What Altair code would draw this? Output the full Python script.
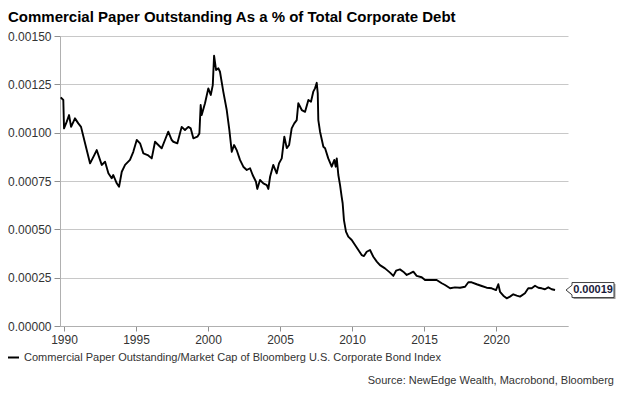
import altair as alt
import pandas as pd

title_text = "Commercial Paper Outstanding As a % of Total Corporate Debt"
series_name = "Commercial Paper Outstanding/Market Cap of Bloomberg U.S. Corporate Bond Index"
source_text = "Source: NewEdge Wealth, Macrobond, Bloomberg"

x_ticks = [1990, 1995, 2000, 2005, 2010, 2015, 2020]
y_ticks = [0.0, 0.00025, 0.0005, 0.00075, 0.001, 0.00125, 0.0015]

years = [1989.77, 1989.95, 1990.00, 1990.19, 1990.35, 1990.49, 1990.76, 1990.99, 1991.18, 1991.46,
         1991.81, 1992.10, 1992.27, 1992.50, 1992.62, 1992.85, 1993.08, 1993.31, 1993.42, 1993.66,
         1993.82, 1994.01, 1994.24, 1994.58, 1994.81, 1995.05, 1995.28, 1995.51, 1995.81, 1996.09,
         1996.32, 1996.55, 1996.78, 1997.01, 1997.24, 1997.48, 1997.59, 1997.87, 1998.17, 1998.40,
         1998.63, 1998.80, 1998.98, 1999.26, 1999.40, 1999.49, 1999.56, 1999.79, 2000.02, 2000.19,
         2000.33, 2000.42, 2000.56, 2000.72, 2000.83, 2001.06, 2001.30, 2001.48, 2001.65, 2001.81,
         2001.99, 2002.22, 2002.45, 2002.69, 2002.92, 2003.10, 2003.33, 2003.42, 2003.61, 2003.84,
         2004.08, 2004.19, 2004.31, 2004.53, 2004.77, 2004.93, 2005.12, 2005.30, 2005.47, 2005.63,
         2005.81, 2005.99, 2006.16, 2006.27, 2006.51, 2006.74, 2006.97, 2007.15, 2007.31, 2007.43,
         2007.55, 2007.62, 2007.66, 2007.78, 2008.01, 2008.13, 2008.35, 2008.59, 2008.77, 2008.87,
         2008.94, 2009.05, 2009.17, 2009.28, 2009.35, 2009.44, 2009.58, 2009.74, 2009.98, 2010.21,
         2010.44, 2010.67, 2010.83, 2011.02, 2011.25, 2011.48, 2011.72, 2011.94, 2012.29, 2012.64,
         2012.87, 2013.06, 2013.33, 2013.56, 2013.80, 2014.03, 2014.26, 2014.49, 2014.84, 2015.07,
         2015.42, 2015.88, 2016.23, 2016.46, 2016.81, 2017.15, 2017.50, 2017.85, 2018.08, 2018.31,
         2018.66, 2019.01, 2019.35, 2019.70, 2020.00, 2020.16, 2020.28, 2020.51, 2020.74, 2020.97,
         2021.20, 2021.44, 2021.67, 2022.01, 2022.24, 2022.48, 2022.71, 2022.94, 2023.17, 2023.40,
         2023.63, 2023.87, 2024.10]

values = [0.001183, 0.001169, 0.001022, 0.001057, 0.001091, 0.001030, 0.001074, 0.001048, 0.001030, 0.000945,
          0.000841, 0.000884, 0.000910, 0.000859, 0.000833, 0.000850, 0.000790, 0.000764, 0.000781, 0.000738,
          0.000720, 0.000798, 0.000833, 0.000859, 0.000901, 0.000962, 0.000945, 0.000893, 0.000884, 0.000867,
          0.000953, 0.000936, 0.000919, 0.000962, 0.001005, 0.000962, 0.000953, 0.000945, 0.001030, 0.001014,
          0.001030, 0.001022, 0.000971, 0.000979, 0.000996, 0.001143, 0.001091, 0.001152, 0.001229, 0.001195,
          0.001246, 0.001398, 0.001324, 0.001333, 0.001315, 0.001212, 0.001117, 0.001014, 0.000901, 0.000936,
          0.000910, 0.000859, 0.000824, 0.000807, 0.000816, 0.000781, 0.000746, 0.000709, 0.000755, 0.000738,
          0.000729, 0.000709, 0.000772, 0.000833, 0.000790, 0.000841, 0.000867, 0.000979, 0.000920, 0.000936,
          0.001022, 0.001048, 0.001065, 0.001152, 0.001117, 0.001108, 0.001169, 0.001160, 0.001212, 0.001229,
          0.001258, 0.001203, 0.001065, 0.001005, 0.000927, 0.000919, 0.000867, 0.000824, 0.000859, 0.000824,
          0.000867, 0.000781, 0.000729, 0.000669, 0.000635, 0.000548, 0.000488, 0.000462, 0.000445, 0.000419,
          0.000393, 0.000367, 0.000362, 0.000384, 0.000393, 0.000358, 0.000333, 0.000315, 0.000298, 0.000276,
          0.000259, 0.000286, 0.000293, 0.000281, 0.000264, 0.000272, 0.000281, 0.000259, 0.000252, 0.000238,
          0.000238, 0.000238, 0.000221, 0.000212, 0.000195, 0.000200, 0.000198, 0.000203, 0.000226, 0.000226,
          0.000216, 0.000207, 0.000198, 0.000195, 0.000186, 0.000216, 0.000177, 0.000157, 0.000143, 0.000152,
          0.000164, 0.000157, 0.000152, 0.000169, 0.000195, 0.000195, 0.000208, 0.000198, 0.000195, 0.000190,
          0.000200, 0.000190, 0.000186]

df = pd.DataFrame({"year": years, "value": values, "series": series_name})
last = df.tail(1)

FONT = "Liberation Sans"
W, H = 508, 290

x_enc = alt.X("year:Q",
              scale=alt.Scale(domain=[1989.72, 2025.0], nice=False, zero=False),
              axis=alt.Axis(values=x_ticks, format="d", title=None, grid=False,
                            labelFont=FONT, labelFontSize=12, labelColor="#333333",
                            domainColor="#b0b0b0", tickColor="#909090", tickSize=5,
                            labelPadding=3))
y_enc = alt.Y("value:Q",
              scale=alt.Scale(domain=[0, 0.0015], nice=False),
              axis=alt.Axis(values=y_ticks, format=".5f", title=None, grid=True,
                            gridColor="#c8c8c8", gridWidth=1,
                            labelFont=FONT, labelFontSize=12, labelColor="#333333",
                            domainColor="#b0b0b0", tickColor="#909090", tickSize=6,
                            labelPadding=3))

line = alt.Chart(df).mark_line(strokeWidth=1.9, strokeJoin="round").encode(
    x=x_enc,
    y=y_enc,
    color=alt.Color("series:N", scale=alt.Scale(range=["black"]),
                    legend=alt.Legend(orient="none", legendX=-53, legendY=315, title=None,
                                      symbolType="stroke", symbolStrokeWidth=2, symbolSize=121,
                                      labelFont=FONT, labelFontSize=11, labelColor="#333333",
                                      padding=0, labelOffset=4, labelLimit=600)),
)

callout_path = "M -1 0 L -0.75 -0.2 L -0.75 -0.3125 L 1 -0.3125 L 1 0.3125 L -0.75 0.3125 L -0.75 0.2 Z"

shadow = alt.Chart(last).mark_point(shape=callout_path, size=2304, filled=True, fill="#9a9a9a",
                                    opacity=1, xOffset=1.5, yOffset=1.5).encode(
    x=alt.value(W + 22), y=alt.Y("value:Q"))
callout = alt.Chart(last).mark_point(shape=callout_path, size=2304, filled=False, fill="white",
                                     fillOpacity=1, stroke="#404040", strokeWidth=1, opacity=1).encode(
    x=alt.value(W + 22), y=alt.Y("value:Q"))
callout_text = alt.Chart(last).mark_text(font=FONT, fontSize=11, fontWeight="bold",
                                         color="#1a1a3a", align="center", baseline="middle").encode(
    x=alt.value(W + 25), y=alt.Y("value:Q"), text=alt.Text("value:Q", format=".5f"))

source = alt.Chart(pd.DataFrame({"t": [source_text]})).mark_text(
    font=FONT, fontSize=11, color="#333333", align="right", baseline="middle").encode(
    x=alt.value(W + 46), y=alt.value(H + 55), text="t:N")

chart = alt.layer(line, shadow, callout, callout_text, source).properties(
    width=W, height=H,
    title=alt.TitleParams(title_text, anchor="start", frame="group", dx=-52, offset=5,
                          font=FONT, fontSize=15, fontWeight="bold", color="black"),
    autosize=alt.AutoSizeParams(type="none"),
    padding={"left": 52, "top": 28, "right": 48, "bottom": 61},
).configure(background="white").configure_view(stroke=None)

chart.save("out.html", embed_options={"renderer": "svg", "actions": False})
